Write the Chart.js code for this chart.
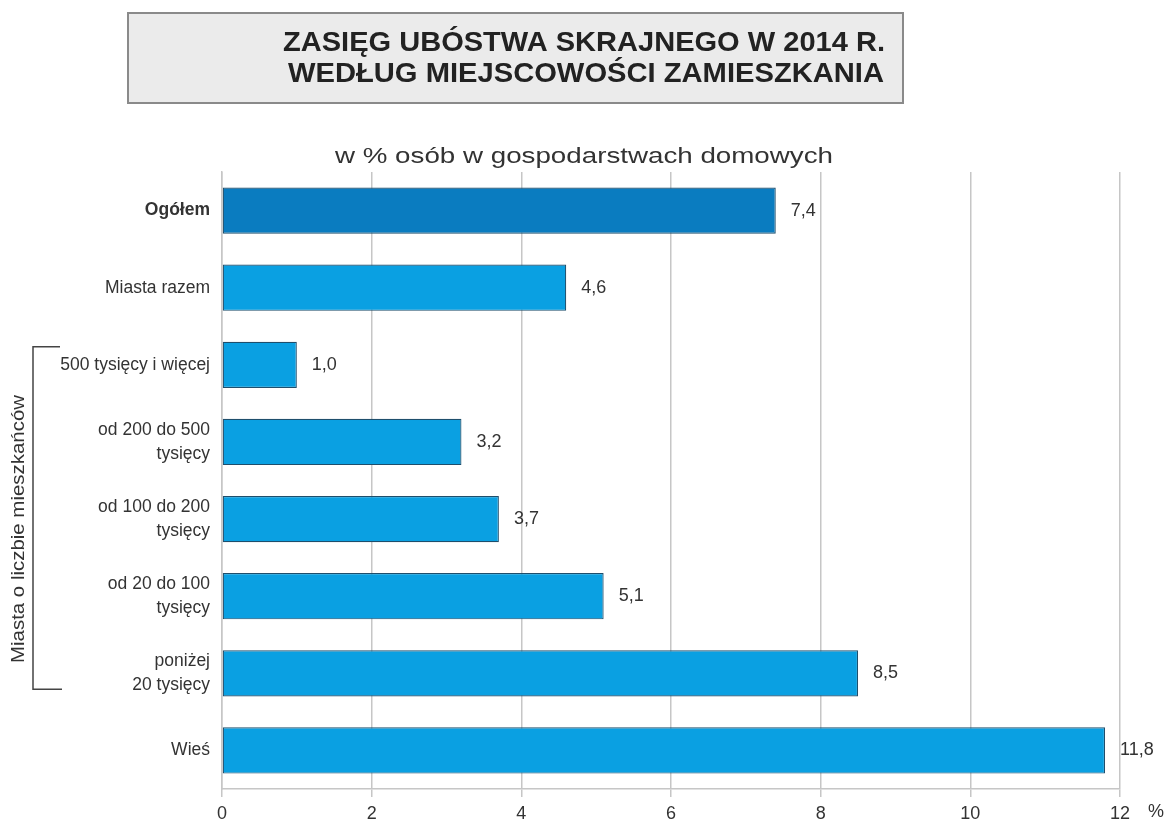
<!DOCTYPE html>
<html><head><meta charset="utf-8">
<script src="https://cdn.jsdelivr.net/npm/chart.js@4"></script>
<style>html,body{margin:0;padding:0;background:#fff;}canvas{display:block;}</style>
</head><body>
<canvas id="c" width="1167" height="823"></canvas>
<script>
const titleLines = ["ZASIĘG UBÓSTWA SKRAJNEGO W 2014 R.", "WEDŁUG MIEJSCOWOŚCI ZAMIESZKANIA"];
const subtitle = "w % osób w gospodarstwach domowych";
const categories = [["Ogółem"], ["Miasta razem"], ["500 tysięcy i więcej"], ["od 200 do 500", "tysięcy"], ["od 100 do 200", "tysięcy"], ["od 20 do 100", "tysięcy"], ["poniżej", "20 tysięcy"], ["Wieś"]];
const values = [7.4, 4.6, 1.0, 3.2, 3.7, 5.1, 8.5, 11.8];
const valueLabels = ["7,4", "4,6", "1,0", "3,2", "3,7", "5,1", "8,5", "11,8"];
const xTicks = [0, 2, 4, 6, 8, 10, 12];
const groupLabel = "Miasta o liczbie mieszkańców";
const unitLabel = "%";

const FONT = "'Liberation Sans', Arial, sans-serif";
const barColors = values.map((v, i) => i === 0 ? '#0a7cc0' : '#0aa0e2');

function fitText(ctx, t, cx, cy, target) {
  const w = ctx.measureText(t).width;
  ctx.save();
  ctx.translate(cx, cy);
  ctx.scale(target / w, 1);
  ctx.fillText(t, 0, 0);
  ctx.restore();
}

const deco = {
  id: 'deco',
  beforeDraw(chart) {
    const ctx = chart.ctx;
    ctx.save();
    ctx.fillStyle = '#fff';
    ctx.fillRect(0, 0, chart.width, chart.height);
    ctx.fillStyle = '#ebebeb';
    ctx.fillRect(128, 13, 775, 90);
    ctx.strokeStyle = '#8a8a8a';
    ctx.lineWidth = 2;
    ctx.strokeRect(128, 13, 775, 90);
    ctx.fillStyle = '#222';
    ctx.font = "bold 28px " + FONT;
    ctx.textBaseline = 'middle';
    ctx.textAlign = 'center';
    fitText(ctx, titleLines[0], 584, 43, 602);
    fitText(ctx, titleLines[1], 586, 74, 596);
    ctx.fillStyle = '#333';
    ctx.font = "22px " + FONT;
    fitText(ctx, subtitle, 584, 157, 498);
    ctx.restore();
  },
  afterDraw(chart) {
    const ctx = chart.ctx;
    const meta = chart.getDatasetMeta(0);
    const y = chart.scales.y;
    const x = chart.scales.x;
    ctx.save();
    ctx.fillStyle = '#333';
    ctx.font = "18px " + FONT;
    ctx.textAlign = 'left';
    ctx.textBaseline = 'middle';
    meta.data.forEach((bar, i) => {
      ctx.fillText(valueLabels[i], bar.x + 15, bar.y);
    });
    ctx.font = "18px " + FONT;
    ctx.fillText(unitLabel, x.getPixelForValue(12) + 28, 812);
    const yTop = y.getPixelForValue(2) - 18;
    const yBot = y.getPixelForValue(6) + 16;
    ctx.strokeStyle = '#444';
    ctx.lineWidth = 1.5;
    ctx.beginPath();
    ctx.moveTo(60, yTop);
    ctx.lineTo(33, yTop);
    ctx.lineTo(33, yBot);
    ctx.lineTo(62, yBot);
    ctx.stroke();
    ctx.save();
    ctx.translate(19, 529);
    ctx.rotate(-Math.PI / 2);
    ctx.textAlign = 'center';
    ctx.font = "18px " + FONT;
    ctx.fillStyle = '#333';
    fitText(ctx, groupLabel, 0, 0, 268);
    ctx.restore();
    ctx.restore();
  }
};

new Chart(document.getElementById('c'), {
  type: 'bar',
  data: {
    labels: categories,
    datasets: [{
      data: values,
      backgroundColor: barColors,
      borderColor: '#1e4e6c',
      borderWidth: 1.2,
      borderSkipped: false,
      barPercentage: 0.6,
      categoryPercentage: 1.0
    }]
  },
  options: {
    indexAxis: 'y',
    responsive: false,
    animation: false,
    devicePixelRatio: 1,
    layout: { padding: { top: 172, right: 47, left: 0, bottom: 0 } },
    plugins: { legend: { display: false }, tooltip: { enabled: false } },
    scales: {
      x: {
        min: 0, max: 12,
        afterBuildTicks(scale) { scale.ticks = xTicks.map(v => ({ value: v })); },
        afterFit(scale) { scale.height = 34; },
        grid: { color: '#c6c6c6', lineWidth: 1.5, tickLength: 8, drawTicks: true },
        border: { display: true, color: '#c6c6c6', width: 1.5 },
        ticks: { color: '#333', font: { family: FONT, size: 18 }, padding: 6 }
      },
      y: {
        afterFit(scale) { scale.width = 222; },
        grid: { display: false, drawTicks: false },
        border: { display: true, color: '#c6c6c6', width: 1.5 },
        ticks: {
          color: '#333',
          padding: 12,
          font: (c) => ({ family: FONT, size: 17.5, weight: c.index === 0 ? 'bold' : 'normal', lineHeight: 1.35 })
        }
      }
    }
  },
  plugins: [deco]
});
</script>
</body></html>
